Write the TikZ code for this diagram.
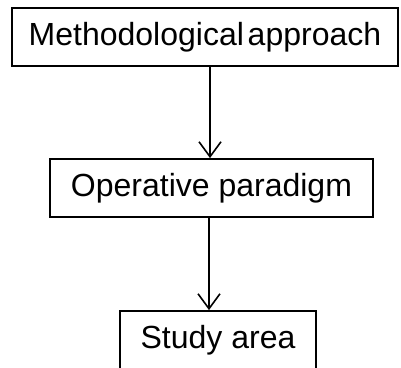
\documentclass[tikz,border=0pt]{standalone}
\usepackage{fontspec}
\setmainfont{Liberation Sans}
\usetikzlibrary{arrows.meta}
\begin{document}
\begin{tikzpicture}[x=1pt,y=1pt,
  stagebox/.style={draw=black,line width=1.8pt,minimum height=58pt,inner sep=0pt,font=\fontsize{32}{34}\selectfont},
  flow/.style={draw=black,line width=1.6pt,-{Straight Barb[length=15pt,width=22pt,line width=1.6pt]}}]
  \useasboundingbox (0,0) rectangle (401,-367);
  \clip (0,0) rectangle (401,-367);
  \node[stagebox,minimum width=386pt] (method) at (205,-37) {Methodological\hspace{0.12em}approach};
  \node[stagebox,minimum width=323pt] (operative) at (211.5,-188) {Operative paradigm};
  \node[stagebox,minimum width=196pt] (study) at (218,-340) {Study area};
  \coordinate (axisA) at (210,0);
  \coordinate (axisB) at (209,0);
  \draw[flow] (method.south -| axisA) -- (operative.north -| axisA);
  \draw[flow] (operative.south -| axisB) -- (study.north -| axisB);
\end{tikzpicture}
\end{document}
